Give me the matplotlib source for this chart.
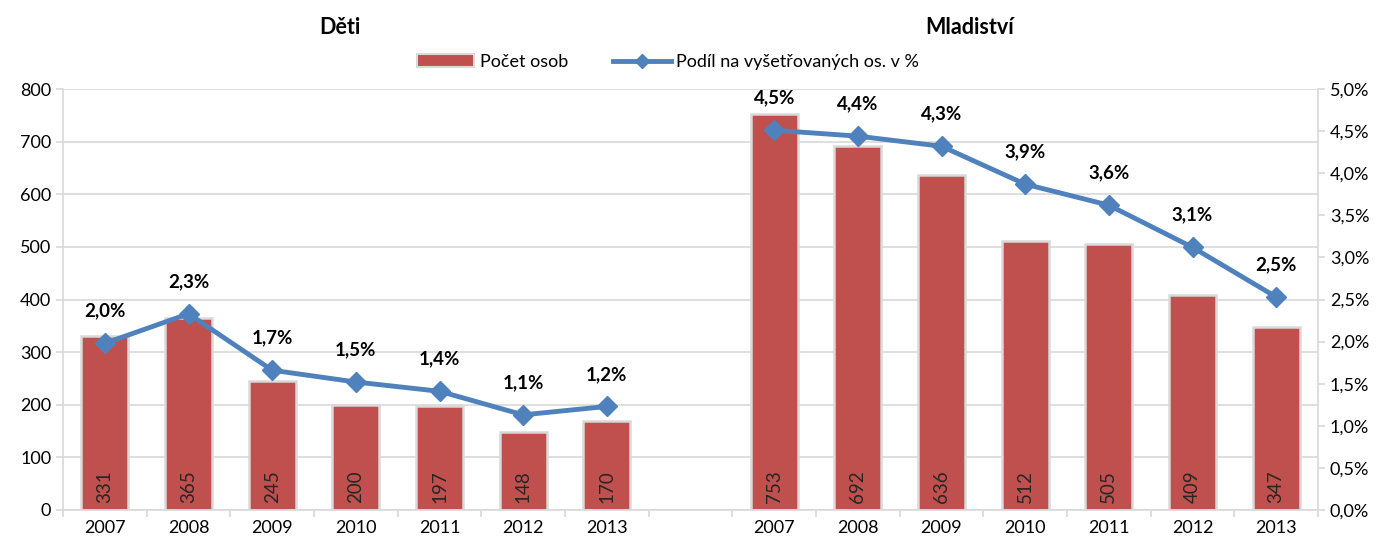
import matplotlib
matplotlib.use("Agg")
import matplotlib.pyplot as plt
from matplotlib.patches import Patch
from matplotlib.lines import Line2D
import numpy as np

plt.rcParams['font.family'] = ['Lato', 'DejaVu Sans']

years = ["2007", "2008", "2009", "2010", "2011", "2012", "2013"]
deti_count = [331, 365, 245, 200, 197, 148, 170]
mlad_count = [753, 692, 636, 512, 505, 409, 347]
deti_pct = [1.98, 2.33, 1.66, 1.52, 1.41, 1.13, 1.23]
mlad_pct = [4.51, 4.44, 4.32, 3.87, 3.62, 3.12, 2.53]
deti_pct_lbl = ["2,0%", "2,3%", "1,7%", "1,5%", "1,4%", "1,1%", "1,2%"]
mlad_pct_lbl = ["4,5%", "4,4%", "4,3%", "3,9%", "3,6%", "3,1%", "2,5%"]

BAR = "#C0504D"
LINE = "#4F81BD"
GRID = "#D9D9D9"

fig = plt.figure(figsize=(13.86, 5.46), dpi=100)
ax = fig.add_axes([63/1386, 1-510/546, (1318-63)/1386, (510-89)/546])
ax2 = ax.twinx()

n = len(years)
x_d = np.arange(n)
x_m = np.arange(n) + n + 1

for xs, vals in ((x_d, deti_count), (x_m, mlad_count)):
    ax.bar(xs, vals, width=0.56, color=BAR, edgecolor=GRID, linewidth=1.8, zorder=2)
    for x, v in zip(xs, vals):
        ax.text(x, 14, str(v), rotation=90, ha="center", va="bottom",
                fontsize=13.5, color="#262626", zorder=3)

for xs, vals, lbls in ((x_d, deti_pct, deti_pct_lbl), (x_m, mlad_pct, mlad_pct_lbl)):
    ax2.plot(xs, vals, color=LINE, lw=3.5, marker="D", ms=10, zorder=4)
    for x, v, l in zip(xs, vals, lbls):
        ax2.annotate(l, (x, v), xytext=(0, 17), textcoords="offset points",
                     ha="center", va="bottom", fontsize=13.5, fontweight="bold",
                     color="#000000")

ax.set_xlim(-0.5, 2 * n + 0.5)
ax.set_ylim(0, 800)
ax.set_yticks(range(0, 801, 100))
ax2.set_ylim(0, 5)
ax2.set_yticks(np.arange(0, 5.01, 0.5))
ax2.set_yticklabels([f"{v:.1f}".replace(".", ",") + "%" for v in np.arange(0, 5.01, 0.5)])

ax.set_xticks(list(x_d) + list(x_m))
ax.set_xticklabels(years + years)
ax.set_xticks(np.arange(-0.5, 2 * n + 1, 1), minor=True)
ax.tick_params(axis="x", which="major", length=0, labelsize=13, pad=7)
ax.tick_params(axis="x", which="minor", length=5, color=GRID, width=1.2)
ax.tick_params(axis="y", length=5, color=GRID, labelsize=13, width=1.2)
ax2.tick_params(axis="y", length=5, color=GRID, labelsize=13, width=1.2)

ax.yaxis.grid(True, color=GRID, lw=1.2, zorder=0)
ax.set_axisbelow(True)
for a in (ax, ax2):
    a.spines["top"].set_visible(False)
    for s in ("left", "right", "bottom"):
        a.spines[s].set_color(GRID)
        a.spines[s].set_linewidth(1.2)
ax.spines["right"].set_visible(False)
ax2.spines["left"].set_visible(False)
ax2.spines["bottom"].set_visible(False)

fig.text(340/1386, 1-27/546, "Děti", ha="center", va="center", fontsize=15.5, fontweight="bold")
fig.text(970/1386, 1-27/546, "Mladiství", ha="center", va="center", fontsize=15.5, fontweight="bold")

handles = [Patch(facecolor=BAR, edgecolor=GRID, lw=1.5, label="Počet osob"),
           Line2D([], [], color=LINE, lw=3.5, marker="D", ms=7, label="Podíl na vyšetřovaných os. v %")]
fig.legend(handles=handles, loc="center", bbox_to_anchor=(668/1386, 1-62/546), ncol=2,
           frameon=False, fontsize=13, handlelength=3.2, columnspacing=2.5, handletextpad=0.3)

plt.savefig("out.png", dpi=100)
